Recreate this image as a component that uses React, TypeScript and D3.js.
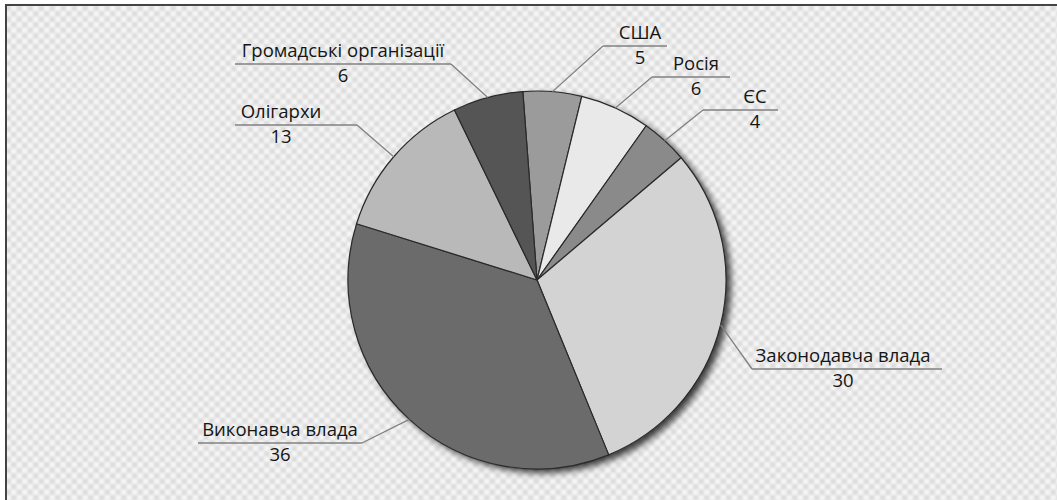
import React from "react";
import * as d3 from "d3";

const categories = ["США", "Росія", "ЄС", "Законодавча влада", "Виконавча влада", "Олігархи", "Громадські організації"];
const values = [5, 6, 4, 30, 36, 13, 6];
const sliceColors = ["#9b9b9b", "#e9e9e9", "#8a8a8a", "#d3d3d3", "#6b6b6b", "#b9b9b9", "#555555"];

// label layout: text center x, name baseline y, underline x-range
const labelLayout = [
  { cx: 640, y: 39, ux1: 603, ux2: 667, side: "left" },
  { cx: 696, y: 70, ux1: 652, ux2: 730, side: "left" },
  { cx: 755, y: 103, ux1: 703, ux2: 778, side: "left" },
  { cx: 843, y: 362, ux1: 752, ux2: 942, side: "left" },
  { cx: 280, y: 436, ux1: 198, ux2: 362, side: "right" },
  { cx: 281, y: 118, ux1: 235, ux2: 357, side: "right" },
  { cx: 343, y: 57, ux1: 235, ux2: 451, side: "right" },
];

const W = 1057;
const H = 500;
const CX = 537;
const CY = 280;
const R = 189;
const START = (-4.3 * Math.PI) / 180;

export default function App() {
  const pie = d3
    .pie<number>()
    .sort(null)
    .value((d) => d)
    .startAngle(START)
    .endAngle(START + 2 * Math.PI);
  const arcs = pie(values);
  const arc = d3.arc<d3.PieArcDatum<number>>().innerRadius(0).outerRadius(R);
  const font = "'Open Sans', 'DejaVu Sans', sans-serif";

  return (
    <svg width={W} height={H} style={{ position: "absolute", left: 0, top: 0 }}>
      <defs>
        <pattern id="chk" width={11} height={11} patternUnits="userSpaceOnUse">
          <rect width={11} height={11} fill="#f6f6f6" />
          <rect width={5.5} height={5.5} fill="#dcdcdc" />
          <rect x={5.5} y={5.5} width={5.5} height={5.5} fill="#dcdcdc" />
        </pattern>
        <filter id="blur1" x="-5%" y="-5%" width="110%" height="110%">
          <feGaussianBlur stdDeviation={0.8} />
        </filter>
        <filter id="shadow" x="-20%" y="-20%" width="140%" height="140%">
          <feDropShadow dx={5} dy={4} stdDeviation={3.5} floodColor="#000" floodOpacity={0.75} />
        </filter>
      </defs>
      <rect x={0} y={0} width={W} height={H} fill="#fff" />
      <rect x={6} y={5} width={W} height={H} fill="url(#chk)" filter="url(#blur1)" />
      <rect x={6} y={5} width={W + 10} height={H + 10} fill="none" stroke="#444" strokeWidth={2} />
      <g transform={`translate(${CX},${CY})`}>
        <circle r={R} fill="#888" filter="url(#shadow)" />
        {arcs.map((a, i) => (
          <path key={i} d={arc(a) || ""} fill={sliceColors[i]} stroke="#2a2a2a" strokeWidth={1.2} strokeLinejoin="round" />
        ))}
      </g>
      {arcs.map((a, i) => {
        const L = labelLayout[i];
        const mid = (a.startAngle + a.endAngle) / 2;
        const px = CX + R * Math.sin(mid);
        const py = CY - R * Math.cos(mid);
        const uy = L.y + 7;
        const ex = L.side === "left" ? L.ux1 : L.ux2;
        return (
          <g key={"l" + i}>
            <polyline
              points={`${L.ux1},${uy} ${L.ux2},${uy}`}
              fill="none"
              stroke="#808080"
              strokeWidth={1.3}
            />
            <line x1={ex} y1={uy} x2={px} y2={py} stroke="#808080" strokeWidth={1.3} />
            <text x={L.cx} y={L.y} textAnchor="middle" fontFamily={font} fontSize={18.5} fill="#151515">
              {categories[i]}
            </text>
            <text x={L.cx} y={L.y + 25} textAnchor="middle" fontFamily={font} fontSize={18.5} fill="#151515">
              {values[i]}
            </text>
          </g>
        );
      })}
    </svg>
  );
}
